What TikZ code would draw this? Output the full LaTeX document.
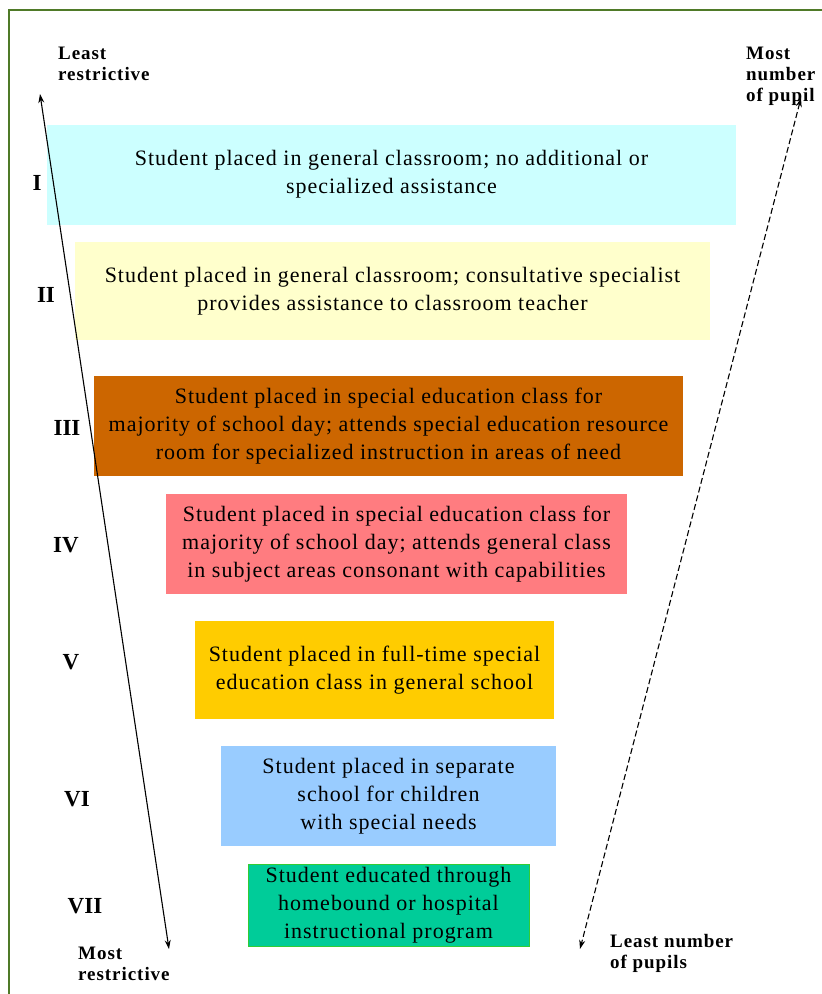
\documentclass[tikz,border=0pt]{standalone}
\usepackage{fontspec}
\setmainfont{Liberation Serif}
\newfontfamily\tierfont[LetterSpace=4.5]{Liberation Serif}
\newfontfamily\labfont[LetterSpace=5]{Liberation Serif}
\usetikzlibrary{arrows.meta}
\definecolor{frameg}{HTML}{4F7A28}
\definecolor{cI}{HTML}{CCFFFF}
\definecolor{cII}{HTML}{FFFFCC}
\definecolor{cIII}{HTML}{CC6600}
\definecolor{cIV}{HTML}{FF7C80}
\definecolor{cV}{HTML}{FFCC00}
\definecolor{cVI}{HTML}{99CCFF}
\definecolor{cVII}{HTML}{00CC99}
\definecolor{bVII}{HTML}{33CC33}
\tikzset{
  tier/.style={draw=none, inner sep=0pt, align=center, font=\tierfont\fontsize{22}{28}\selectfont},
  numeral/.style={font=\fontsize{23}{24}\selectfont\bfseries, inner sep=0pt},
  endlabel/.style={font=\labfont\fontsize{19}{21}\selectfont\bfseries, align=left, inner sep=0pt, anchor=north west},
  arr/.style={line width=1.1pt, {Stealth[length=9pt,width=6pt]}-{Stealth[length=9pt,width=6pt]}}
}
\begin{document}
\begin{tikzpicture}[x=1pt,y=-1pt]
\useasboundingbox (0,0) rectangle (822,994);
\fill[white] (0,0) rectangle (822,994);
\draw[frameg, line width=2pt] (822,10) -- (9,10) -- (9,994);
% tiers
\node[tier, fill=cI, minimum width=689pt, minimum height=100pt] (t1) at (391.5,174.5) {Student placed in general classroom; no additional or\\specialized assistance};
\node[tier, fill=cII, minimum width=635pt, minimum height=98pt] (t2) at (392.5,291) {Student placed in general classroom; consultative specialist\\provides assistance to classroom teacher};
\node[tier, fill=cIII, minimum width=589pt, minimum height=100pt] (t3) at (388.5,426) {Student placed in special education class for\\majority of school day; attends special education resource\\room for specialized instruction in areas of need};
\node[tier, fill=cIV, minimum width=461pt, minimum height=100pt] (t4) at (396.5,544) {Student placed in special education class for\\majority of school day; attends general class\\in subject areas consonant with capabilities};
\node[tier, fill=cV, minimum width=359pt, minimum height=98pt] (t5) at (374.5,670) {Student placed in full-time special\\education class in general school};
\node[tier, fill=cVI, minimum width=335pt, minimum height=100pt] (t6) at (388.5,796) {Student placed in separate\\school for children\\with special needs};
\node[tier, fill=cVII, draw=bVII, line width=1pt, minimum width=281pt, minimum height=82pt] (t7) at (388.5,905) {Student educated through\\homebound or hospital\\instructional program};
% numerals
\node[numeral] (n1) at (37,183) {I};
\node[numeral] (n2) at (46,295) {II};
\node[numeral] (n3) at (67,428) {III};
\node[numeral] (n4) at (66,545) {IV};
\node[numeral] (n5) at (71,662) {V};
\node[numeral] (n6) at (77,799) {VI};
\node[numeral] (n7) at (85,906) {VII};
% end labels
\node[endlabel] (lr) at (58,47) {Least\\restrictive};
\node[endlabel] (mn) at (746,47) {Most\\number\\of pupil};
\node[endlabel] (mr) at (78,947) {Most\\restrictive};
\node[endlabel] (ln) at (610,934) {Least number\\of pupils};
% arrows
\coordinate (la) at (40,94);
\coordinate (lb) at (169,949);
\coordinate (ra) at (801,98);
\coordinate (rb) at (580,949);
\draw[arr] (la) -- (lb);
\draw[arr, dash pattern=on 6pt off 3pt] (ra) -- (rb);
\end{tikzpicture}
\end{document}
